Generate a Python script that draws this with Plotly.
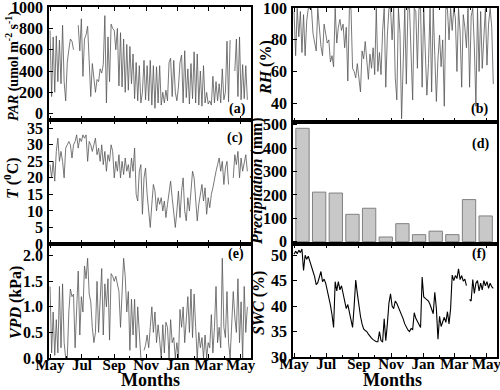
import plotly.graph_objects as go
import pandas as pd

# ---------------- data (3-day sampling from 2012-05-01) ----------------
start_date = "2012-05-01"
step = "3D"

par = [780,160,720,200,730,300,690,280,830,300,
       120,480,600,700,680,600,None,None,830,590,
       890,350,700,740,820,480,160,470,350,200,
       320,300,420,380,460,920,100,720,300,840,
       800,780,600,800,260,760,250,700,200,650,
       220,630,280,560,140,480,120,450,100,200,
       500,130,450,120,500,80,450,50,440,100,
       450,80,200,100,220,120,480,520,160,500,
       200,120,250,480,550,100,590,150,420,90,
       470,140,580,100,560,80,400,70,450,100,
       200,90,120,80,350,100,300,120,280,100,
       420,130,200,680,110,690,None,None,400,700,
       160,720,130,460,140,450,130]

rh = [98,70,100,82,98,72,96,70,92,100,
      100,100,84,78,73,100,86,76,70,90,
      84,78,80,66,70,63,100,78,88,93,
      86,90,75,88,54,100,100,62,60,56,
      65,57,47,73,68,79,66,55,71,62,
      75,58,100,60,72,58,86,100,50,83,
      100,100,80,100,56,42,100,84,30,75,
      100,52,100,100,62,42,100,98,62,100,
      100,50,100,70,45,65,100,47,100,70,
      41,68,83,63,80,38,100,100,80,100,
      86,100,94,60,100,85,50,96,88,75,
      100,50,95,100,76,38,100,60,98,62,
      85,100,64,90,100,88,52]

temp = [24,20,25,19,28,32,25,28,25,20,
        29,30,31,30,26,30,31,33,29,32,
        31,33,32,33,25,31,30,28,30,32,
        27,29,25,30,24,28,22,27,25,30,
        28,20,25,22,27,20,25,21,26,22,
        24,20,26,22,29,15,13,22,24,9,
        20,23,15,10,5,12,18,16,10,14,
        12,14,10,13,8,12,15,19,14,9,
        5,10,16,8,16,20,10,7,14,10,
        17,22,20,12,7,12,15,18,13,17,
        9,14,11,15,17,20,22,24,26,22,
        25,18,23,25,18,None,None,20,27,24,
        28,20,26,22,25,27,22]

vpd = [1.4,0.1,0.9,0.05,0.75,0.1,1.4,0.2,1.45,0.3,
       0.0,0.0,0.9,1.35,1.2,1.25,0.2,1.1,1.7,0.45,
       1.2,0.9,1.8,1.55,1.95,1.25,1.1,0.6,0.3,0.5,
       1.5,0.5,1.2,1.75,0.45,1.45,1.0,1.55,0.35,1.65,
       1.6,1.5,1.6,1.45,1.3,0.6,1.2,1.95,1.6,0.9,
       1.3,0.15,1.15,0.45,1.15,0.2,1.0,0.5,0.0,None,
       0.15,0.25,0.45,0.2,0.6,1.0,0.5,0.9,0.3,0.65,
       0.35,0.0,0.65,0.1,0.7,0.6,0.0,0.75,0.3,0.4,
       0.0,0.3,0.0,0.95,0.6,1.0,0.3,0.8,1.2,0.5,
       1.35,0.4,1.25,0.6,0.0,0.5,0.2,0.4,0.0,0.45,
       0.0,0.3,0.2,0.85,0.1,0.6,1.4,0.3,0.6,0.2,
       1.95,0.6,0.4,1.3,0.3,0.0,0.6,1.3,0.8,0.5,
       1.55,0.3,1.1,0.0,1.4,0.5,1.0]

swc = [50.2,50.8,50.3,51.0,50.5,51.2,47.0,50.0,49.2,49.8,
       48.8,47.5,46.8,45.8,44.2,44.6,45.5,46.8,44.8,45.3,
       44.5,43.2,41.5,40.2,38.3,35.8,44.8,43.0,44.8,43.2,
       44.0,42.5,41.2,39.5,40.3,39.0,37.3,35.8,40.0,45.1,
       42.5,40.0,38.0,36.5,35.5,35.2,35.0,34.5,34.0,33.7,
       33.4,33.2,33.0,33.0,35.0,33.2,33.0,37.5,33.2,36.5,
       40.6,42.4,40.0,39.5,41.0,40.5,39.8,39.0,38.2,37.5,
       36.5,35.8,35.3,35.0,35.6,35.4,38.7,37.6,37.0,36.3,
       35.8,45.7,41.8,41.5,41.2,41.0,40.3,39.5,38.5,42.7,
       39.5,33.5,38.0,36.0,37.0,37.8,36.8,38.9,36.5,39.5,
       46.1,45.0,46.0,45.4,47.3,45.2,46.0,44.9,45.3,44.0,
       None,41.3,41.0,45.2,42.5,44.5,45.0,43.0,44.5,43.2,
       45.0,44.0,44.8,43.5,44.5,43.8,43.5]

precip_months = ["May","Jun","Jul","Aug","Sep","Oct","Nov","Dec","Jan","Feb","Mar","Apr"]
precip = [485, 212, 208, 117, 143, 20, 77, 30, 45, 30, 180, 110]

panel_labels = ["(a)", "(b)", "(c)", "(d)", "(e)", "(f)"]

# ---------------- figure ----------------
W, H = 500, 390
dates = pd.date_range(start_date, periods=len(par), freq=step)
prec_x = list(range(1, len(precip) + 1))

FONT = "Liberation Serif"
GRAY = "#555555"

def px(x):
    return x / W

def py(y):
    return 1 - y / H

fig = go.Figure()
fig.add_trace(go.Scatter(x=dates, y=par, mode="lines", line=dict(color=GRAY, width=0.8),
                         xaxis="x", yaxis="y", showlegend=False))
fig.add_trace(go.Scatter(x=dates, y=temp, mode="lines", line=dict(color=GRAY, width=0.8),
                         xaxis="x2", yaxis="y2", showlegend=False))
fig.add_trace(go.Scatter(x=dates, y=vpd, mode="lines", line=dict(color=GRAY, width=0.8),
                         xaxis="x3", yaxis="y3", showlegend=False))
fig.add_trace(go.Scatter(x=dates, y=rh, mode="lines", line=dict(color=GRAY, width=0.8),
                         xaxis="x4", yaxis="y4", showlegend=False))
fig.add_trace(go.Bar(x=prec_x, y=precip, width=0.8, marker=dict(color="#c8c8c8",
                     line=dict(color="#808080", width=1)), customdata=precip_months,
                     xaxis="x5", yaxis="y5", showlegend=False))
fig.add_trace(go.Scatter(x=dates, y=swc, mode="lines", line=dict(color="black", width=1.1),
                         xaxis="x6", yaxis="y6", showlegend=False))

tickfont = dict(family=FONT, size=16, color="black", weight="bold")
xtickfont = dict(family=FONT, size=15, color="black", weight="bold")
date_range = ["2012-04-29", "2013-05-21"]

def date_axis(domain, anchor, labels):
    return dict(domain=domain, anchor=anchor, type="date", range=date_range,
                tick0="2012-05-01", dtick="M2", tickformat="%b",
                ticks="inside", ticklen=4, tickwidth=1, tickcolor="black",
                minor=dict(dtick="M1", ticks="inside", ticklen=2.5, tickcolor="black", showgrid=False),
                showline=True, linecolor="black", linewidth=1.5, mirror="ticks",
                showgrid=False, zeroline=False, showticklabels=labels,
                tickfont=xtickfont, automargin=False, ticklabelstandoff=-8,
                ticklabeloverflow="allow")

def y_axis(domain, anchor, rng, dtick, fmt=None):
    d = dict(domain=domain, anchor=anchor, range=rng, dtick=dtick, tick0=0,
             ticks="inside", ticklen=4, tickwidth=1, tickcolor="black",
             showline=True, linecolor="black", linewidth=1.5, mirror=True,
             showgrid=False, zeroline=False, tickfont=tickfont, automargin=False,
             ticklabelstandoff=1, ticklabeloverflow="allow")
    if fmt:
        d["tickformat"] = fmt
    return d

LX = [px(49), px(251)]
RX = [px(293), px(497)]
A_Y = [py(120), py(7)]
C_Y = [py(244), py(120)]
E_Y = [py(358), py(244)]
B_Y = [py(122), py(8)]
D_Y = [py(244), py(122)]
F_Y = [py(357), py(244)]

fig.update_layout(
    width=W, height=H,
    margin=dict(l=0, r=0, t=0, b=0),
    paper_bgcolor="white", plot_bgcolor="white",
    bargap=0.2,
    xaxis=date_axis(LX, "y", False),
    yaxis=y_axis(A_Y, "x", [-60, 1001], 200),
    xaxis2=date_axis(LX, "y2", False),
    yaxis2=y_axis(C_Y, "x2", [0, 37.5], 5),
    xaxis3=date_axis(LX, "y3", True),
    yaxis3=y_axis(E_Y, "x3", [0, 2.23], 0.5, ".1f"),
    xaxis4=date_axis(RX, "y4", False),
    yaxis4=y_axis(B_Y, "x4", [28, 100.2], 20),
    xaxis5=dict(domain=RX, anchor="y5", range=[0.43, 12.68], showticklabels=False,
                ticks="", showline=True, linecolor="black", linewidth=1.5, mirror=True,
                showgrid=False, zeroline=False, automargin=False),
    yaxis5=y_axis(D_Y, "x5", [-10, 512], 100),
    xaxis6=date_axis(RX, "y6", True),
    yaxis6=y_axis(F_Y, "x6", [30, 52.2], 5),
)

ann = []
def add_text(text, x, y, size, angle=0, xanchor="center"):
    ann.append(dict(text=text, x=px(x), y=py(y), xref="paper", yref="paper",
                    showarrow=False, textangle=angle, xanchor=xanchor, yanchor="middle",
                    font=dict(family=FONT, size=size, color="black", weight="bold")))

# y titles
add_text("<i>PAR</i> (umol m<sup>-2</sup> s<sup>-1</sup>)", 12, 66, 14, -90)
add_text("<i>T</i> (<sup>0</sup>C)", 12, 178, 16, -90)
add_text("<i>VPD</i> (kPa)", 16, 303, 16, -90)
add_text("<i>RH</i> (%)", 266, 68, 16, -90)
add_text("<i>Precipitation</i> (mm)", 257, 181, 16, -90)
add_text("<i>SWC</i> (%)", 259, 303, 16, -90)

# panel labels
add_text(panel_labels[0], 237, 109, 14)
add_text(panel_labels[1], 479, 109, 14)
add_text(panel_labels[2], 235, 138, 14)
add_text(panel_labels[3], 480, 144, 14)
add_text(panel_labels[4], 236, 254, 14)
add_text(panel_labels[5], 479, 254, 14)

# x titles
add_text("Months", 150, 380, 18)
add_text("Months", 392, 380, 18)

fig.update_layout(annotations=ann)
fig.write_html("out.html", config={"displayModeBar": False},
               post_script="document.body.style.margin='0';document.body.style.overflow='hidden';")
